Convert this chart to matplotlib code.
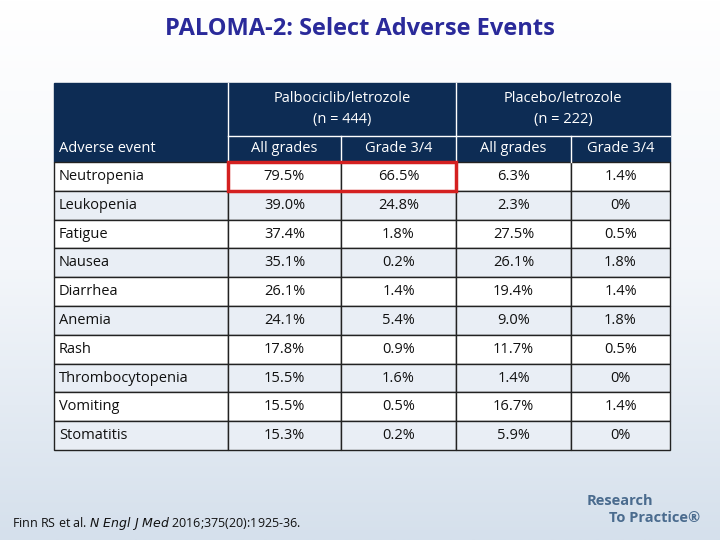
import numpy as np
import matplotlib.pyplot as plt
from matplotlib.patches import Rectangle

title = "PALOMA-2: Select Adverse Events"
groups = ["Palbociclib/letrozole\n(n = 444)", "Placebo/letrozole\n(n = 222)"]
subheads = ["All grades", "Grade 3/4", "All grades", "Grade 3/4"]
events = ["Neutropenia", "Leukopenia", "Fatigue", "Nausea", "Diarrhea", "Anemia",
          "Rash", "Thrombocytopenia", "Vomiting", "Stomatitis"]
palbo_all = ["79.5%", "39.0%", "37.4%", "35.1%", "26.1%", "24.1%", "17.8%", "15.5%", "15.5%", "15.3%"]
palbo_g34 = ["66.5%", "24.8%", "1.8%", "0.2%", "1.4%", "5.4%", "0.9%", "1.6%", "0.5%", "0.2%"]
plac_all = ["6.3%", "2.3%", "27.5%", "26.1%", "19.4%", "9.0%", "11.7%", "1.4%", "16.7%", "5.9%"]
plac_g34 = ["1.4%", "0%", "0.5%", "1.8%", "1.4%", "1.8%", "0.5%", "0%", "1.4%", "0%"]

plt.rcParams["font.family"] = "Open Sans"
fig = plt.figure(figsize=(7.2, 5.4), dpi=100)
ax = fig.add_axes([0, 0, 1, 1])
ax.set_xlim(0, 720)
ax.set_ylim(540, 0)
ax.axis("off")

# background gradient
grad = np.linspace(0, 1, 256).reshape(-1, 1)
ax.imshow(grad, extent=[0, 720, 540, 0], cmap=plt.matplotlib.colors.LinearSegmentedColormap.from_list(
    "bg", ["#ffffff", "#f3f6fa", "#d5e0ec"]), aspect="auto", zorder=0)

ax.text(360, 29, title, ha="center", va="center", fontsize=17, fontweight="bold", color="#2a2a9a")

navy = "#0d2c54"
xs = [54, 228, 341, 456, 571, 670]
top, mid, hb = 83, 136, 162
rh = 28.8

ax.add_patch(Rectangle((xs[0], top), xs[-1] - xs[0], hb - top, color=navy, zorder=1))
for x in xs[1:-1]:
    y0 = top if x != 341 and x != 571 else mid
    ax.plot([x, x], [y0, hb], color="white", lw=1, zorder=2)
ax.plot([xs[1], xs[-1]], [mid, mid], color="white", lw=1, zorder=2)
ax.text(xs[0] + 5, 149, "Adverse event", ha="left", va="center", color="white", fontsize=10.5)
for i, g in enumerate(groups):
    ax.text((xs[1 + 2 * i] + xs[3 + 2 * i]) / 2, 109, g, ha="center", va="center",
            color="white", fontsize=10.5, linespacing=1.6)
for i, s in enumerate(subheads):
    ax.text((xs[1 + i] + xs[2 + i]) / 2, 149, s, ha="center", va="center", color="white", fontsize=10.5)

cols = [events, palbo_all, palbo_g34, plac_all, plac_g34]
for r in range(len(events)):
    y = hb + r * rh
    fc = "white" if r % 2 == 0 else "#e9eef5"
    for c in range(5):
        ax.add_patch(Rectangle((xs[c], y), xs[c + 1] - xs[c], rh, facecolor=fc,
                               edgecolor="#222222", lw=1, zorder=1))
        if c == 0:
            ax.text(xs[0] + 5, y + rh / 2, cols[c][r], ha="left", va="center", fontsize=10.5, color="#111111")
        else:
            ax.text((xs[c] + xs[c + 1]) / 2, y + rh / 2, cols[c][r], ha="center", va="center",
                    fontsize=10.5, color="#111111")

ax.add_patch(Rectangle((xs[1], hb), xs[3] - xs[1], rh, fill=False, edgecolor="#d42020", lw=2.5, zorder=3))

ax.text(12, 523, r"Finn RS et al. $\it{N\ Engl\ J\ Med}$ 2016;375(20):1925-36.", ha="left", va="center",
        fontsize=9, color="#111111")
ax.text(587, 501, "Research", ha="left", va="center", fontsize=10.5, color="#4a6b8e", fontweight="bold")
ax.text(609, 518, "To Practice\u00ae", ha="left", va="center", fontsize=10.5, color="#4a6b8e", fontweight="bold")

fig.savefig("out.png", dpi=100)
